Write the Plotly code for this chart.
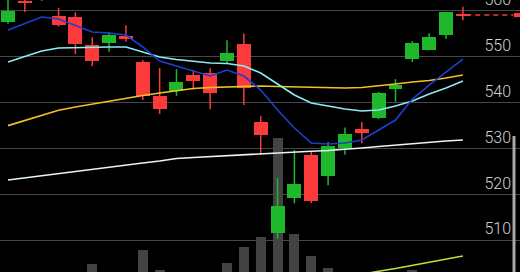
import plotly.graph_objects as go

# ---- data ----
idx = list(range(28))
opens  = [557.6, 562.05, 562.9, 558.8, 558.55, 552.45, 552.95, 554.5, 548.8, 541.35,
          542.4, 545.95, 546.3, 549.0, 552.6, 535.7, 511.55, 519.15, 528.5, 523.9,
          530.0, 534.2, 536.55, 542.9, 549.45, 551.4, 554.7, 559.15]
highs  = [563.6, 564.8, 565.2, 560.6, 559.6, 554.2, 555.3, 556.8, 549.2, 547.45,
          547.2, 547.05, 547.4, 553.5, 555.0, 537.0, 523.5, 529.6, 529.4, 531.35,
          534.5, 535.7, 542.25, 545.05, 553.35, 555.05, 559.65, 560.8]
lows   = [557.1, 559.65, 562.1, 556.5, 550.5, 547.9, 551.0, 553.2, 540.5, 537.45,
          541.4, 542.8, 538.5, 548.5, 539.4, 528.55, 510.25, 518.0, 518.05, 521.95,
          528.55, 531.1, 536.35, 540.1, 548.8, 551.35, 553.8, 557.9]
closes = [559.98, 561.55, 564.85, 556.9, 552.7, 548.9, 554.65, 553.8, 541.3, 538.5,
          544.45, 544.7, 542.0, 550.8, 543.1, 532.9, 517.4, 522.2, 518.6, 530.55,
          533.0, 533.3, 542.05, 543.8, 552.95, 554.25, 559.6, 558.9]
volume = [20, 22, 18, 21, 24, 32.9, 20, 23, 38.1, 30.7,
          26, 22, 27, 33.3, 39.2, 42.9, 79.3, 44.0, 35.9, 31.5,
          25, 20, 28, 22, 30.7, 26, 24, 15]
ma_blue = [555.75, 557.17, 558.58, 558.15, 556.73, 555.32, 555.10, 554.66, 552.05, 549.0,
           547.91, 546.82, 545.73, 547.04, 545.73, 542.68, 538.32, 534.40, 531.13, 530.92,
           531.13, 531.79, 533.97, 536.14, 540.72, 543.77, 546.60, 549.43]
ma_cyan = [548.78, 549.93, 551.18, 551.83, 551.94, 552.05, 552.05, 552.05, 550.96, 549.87,
           549.32, 549.0, 548.56, 548.45, 547.91, 546.38, 543.99, 541.59, 539.85, 539.19,
           538.54, 538.10, 538.32, 539.19, 540.28, 541.81, 543.12, 544.64]
ma_gold = [534.92, 536.03, 537.15, 538.26, 538.98, 539.63, 540.28, 540.94, 541.48, 542.03,
           542.57, 543.01, 543.22, 543.33, 543.49, 543.55, 543.44, 543.33, 543.22, 543.12,
           543.12, 543.22, 543.55, 543.99, 544.42, 544.75, 545.29, 545.95]
ma_white = [523.07, 523.55, 524.03, 524.49, 524.97, 525.40, 525.88, 526.34, 526.78, 527.22,
            527.76, 527.97, 528.19, 528.41, 528.63, 528.82, 529.0, 529.17, 529.35, 529.50,
            529.72, 530.04, 530.37, 530.70, 531.02, 531.35, 531.57, 531.78]
ma_lime = [None] * 18 + [500.5, 501.2, 501.8, 502.5, 503.2, 503.8, 504.5, 505.2, 505.8, 506.5]
tick_vals = [500, 510, 520, 530, 540, 550, 560]
tick_text = ["500", "510", "520", "530", "540", "550", "560"]
last_price = 559.0

GREEN = "#1fb82c"
RED = "#fb3b3b"

fig = go.Figure()

# volume (main y axis, drawn underneath)
fig.add_trace(go.Bar(x=idx, y=volume, marker_color="#434343", marker_line_width=0,
                     width=0.6, yaxis="y", showlegend=False, hoverinfo="skip"))

# candle bodies
body_base = [min(o, c) for o, c in zip(opens, closes)]
body_h = [max(abs(c - o), 0.25) for o, c in zip(opens, closes)]
body_col = [GREEN if c >= o else RED for o, c in zip(opens, closes)]
fig.add_trace(go.Bar(x=idx, y=body_h, base=body_base, marker_color=body_col,
                     marker_line_width=0, width=0.83, yaxis="y2", showlegend=False))

# wicks
for col, up in ((GREEN, True), (RED, False)):
    wx, wy = [], []
    for i, o, h, l, c in zip(idx, opens, highs, lows, closes):
        if (c >= o) == up:
            wx += [i, i, None]
            wy += [l, h, None]
    fig.add_trace(go.Scatter(x=wx, y=wy, mode="lines", line=dict(color=col, width=1.5),
                             yaxis="y2", showlegend=False, hoverinfo="skip"))

# moving averages
for vals, col in ((ma_white, "#e6f6f6"), (ma_gold, "#f2c227"), (ma_cyan, "#8cecf2"),
                  (ma_blue, "#1d3fcf"), (ma_lime, "#b6e632")):
    fig.add_trace(go.Scatter(x=idx, y=vals, mode="lines", line=dict(color=col, width=1.6),
                             yaxis="y2", showlegend=False))

# current price dashed line and clipped label box
fig.add_shape(type="line", xref="x", yref="y2", x0=idx[-1] + 0.2, x1=30.0,
              y0=last_price, y1=last_price, line=dict(color=RED, width=1.5, dash="5px,4px"))
fig.add_shape(type="rect", xref="paper", yref="y2", x0=514 / 520, x1=1.0,
              y0=last_price - 0.45, y1=last_price + 0.45, fillcolor=RED, line_width=0)
# scrollbar
fig.add_shape(type="rect", xref="paper", yref="paper", x0=512.5 / 520, x1=515.5 / 520,
              y0=-0.02, y1=(272 - 136) / 272, fillcolor="#a8a8a8", line_width=0)

fig.update_layout(
    template="none",
    width=520, height=272, autosize=False,
    margin=dict(l=0, r=0, t=0, b=0, pad=0),
    paper_bgcolor="black", plot_bgcolor="black",
    bargap=0, barmode="overlay",
    xaxis=dict(range=[-0.475, 30.39], visible=False, fixedrange=True, automargin=False),
    yaxis=dict(range=[30, 130], visible=False, showgrid=False, automargin=False),
    yaxis2=dict(range=[503.03, 562.29], overlaying="y", side="right", automargin=False,
                tickvals=tick_vals, ticktext=tick_text, showgrid=True,
                gridcolor="#474747", gridwidth=1, zeroline=False, showline=False,
                ticks="", ticklabelposition="inside top", ticklabeloverflow="allow",
                ticklabelstandoff=6,
                tickfont=dict(family="Roboto", size=16, color="#d2d2d2", weight=300)),
    font=dict(family="Roboto"),
)

fig.write_html("out.html")
